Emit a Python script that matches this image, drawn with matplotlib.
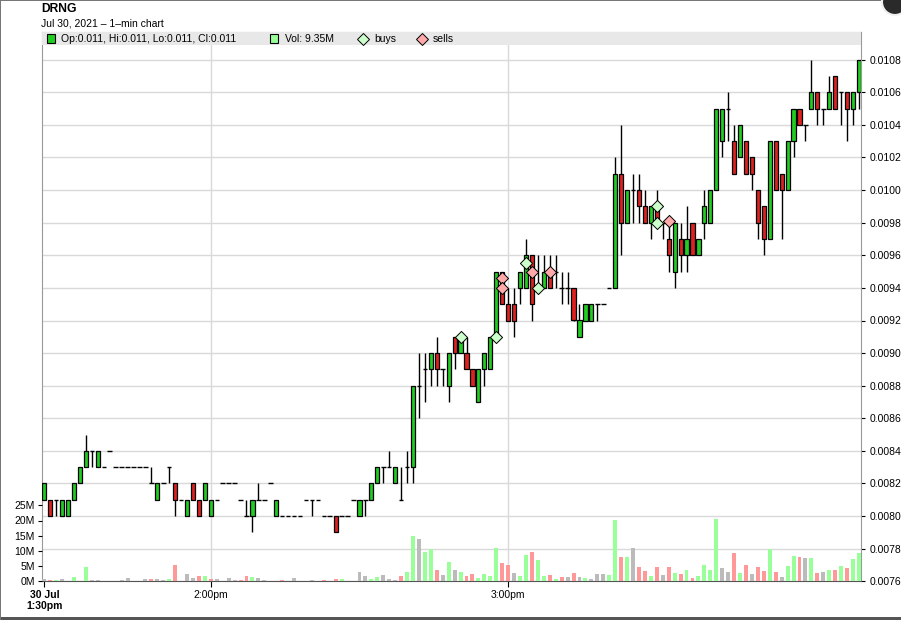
import numpy as np
import matplotlib
matplotlib.use('Agg')
import matplotlib.pyplot as plt
from matplotlib.patches import Rectangle, Ellipse

# DRNG 1-min bars, prices in ticks of 0.0001
TICK = 0.0001
opens = [81, 81, 81, 80, 80, 81, 82, 83, 84, 83, 83, 84, 83, 83, 83, 83, 83, 83, 82, 81,
         82, 83, 82, 81, 80, 82, 81, 81, 80, 81, 82, 82, 82, 81, 80, 80, 81, 81, 82, 80,
         80, 80, 80, 80, 81, 81, 81, 80, 80, 80, 80, 80, 81, 80, 81, 81, 82, 83, 83, 82,
         81, 83, 83, 88, 89, 89, 90, 89, 88, 91, 90, 90, 89, 87, 89, 89, 91, 95, 93, 93,
         94, 94, 96, 94, 94, 95, 95, 94, 94, 94, 91, 92, 92, 93, 93, 94, 94, 101, 98, 100,
         100, 99, 98, 99, 98, 97, 95, 97, 96, 98, 96, 98, 98, 100, 103, 105, 103, 102, 103, 102,
         100, 99, 97, 103, 101, 100, 103, 105, 104, 105, 106, 105, 105, 107, 106, 106, 105, 106]
highs = [82, 81, 81, 81, 81, 82, 83, 85, 84, 84, 83, 84, 83, 83, 83, 83, 83, 83, 83, 82,
         82, 83, 82, 81, 81, 82, 81, 82, 81, 81, 82, 82, 82, 81, 81, 81, 82, 81, 82, 81,
         80, 80, 80, 80, 81, 81, 81, 80, 80, 80, 80, 80, 81, 81, 81, 82, 83, 83, 84, 83,
         83, 84, 88, 90, 90, 90, 91, 89, 90, 91, 91, 91, 89, 89, 90, 91, 95, 95, 94, 94,
         95, 97, 96, 96, 96, 96, 96, 95, 95, 94, 93, 93, 93, 93, 93, 94, 102, 104, 100, 101,
         101, 100, 99, 100, 98, 98, 98, 98, 99, 98, 97, 100, 100, 105, 105, 106, 104, 104, 103, 102,
         100, 99, 103, 103, 101, 103, 105, 105, 104, 108, 106, 105, 107, 107, 106, 106, 106, 108]
lows = [81, 80, 80, 80, 80, 81, 82, 83, 83, 83, 83, 84, 83, 83, 83, 83, 83, 83, 82, 81,
        82, 82, 80, 81, 80, 81, 80, 81, 80, 81, 82, 82, 82, 81, 80, 79, 81, 81, 82, 80,
        80, 80, 80, 80, 81, 80, 81, 80, 80, 79, 80, 80, 81, 80, 80, 81, 82, 82, 83, 82,
        81, 82, 82, 86, 87, 88, 88, 88, 87, 89, 90, 89, 88, 87, 88, 89, 91, 93, 92, 91,
        93, 94, 92, 94, 94, 94, 94, 93, 93, 92, 91, 92, 92, 92, 93, 94, 94, 96, 98, 98,
        98, 98, 97, 98, 97, 95, 94, 95, 95, 96, 96, 97, 98, 100, 102, 103, 101, 102, 101, 100,
        97, 96, 97, 100, 97, 100, 102, 104, 103, 105, 104, 104, 105, 105, 104, 103, 104, 105]
closes = [82, 80, 81, 81, 81, 82, 83, 84, 84, 84, 83, 84, 83, 83, 83, 83, 83, 83, 82, 82,
          82, 83, 81, 81, 81, 81, 80, 82, 81, 81, 82, 82, 82, 81, 80, 81, 81, 81, 82, 81,
          80, 80, 80, 80, 81, 81, 81, 80, 80, 79, 80, 80, 81, 81, 81, 82, 83, 83, 83, 83,
          81, 83, 88, 88, 89, 90, 89, 89, 90, 90, 91, 89, 88, 89, 90, 91, 95, 93, 92, 92,
          95, 96, 93, 94, 95, 94, 95, 94, 94, 92, 92, 93, 93, 93, 93, 94, 101, 98, 100, 100,
          99, 98, 99, 98, 98, 96, 98, 96, 97, 96, 97, 99, 100, 105, 105, 105, 101, 104, 101, 101,
          98, 97, 103, 100, 100, 103, 105, 104, 104, 106, 105, 105, 106, 105, 106, 105, 106, 108]
# volume in millions of shares
volume_m = [0.7, 0.4, 0.4, 0.7, 0.1, 1.4, 0.1, 4.6, 0.4, 0.4, 0.1, 0.1, 0.1, 0.4, 1.1, 0.1,
            0.1, 0.7, 0.7, 0.7, 0.4, 0.7, 5.3, 0.1, 2.3, 1.1, 1.8, 1.8, 0.7, 0.7, 0.1, 1.0,
            0.4, 0.4, 1.8, 1.4, 1.1, 0.4, 0.1, 0.1, 0.4, 0.1, 1.1, 0.1, 0.1, 0.4, 0.1, 0.4,
            0.1, 0.7, 0.7, 0.1, 0.1, 3.0, 1.8, 0.7, 1.4, 2.0, 0.7, 0.4, 1.7, 3.0, 14.8, 13.8,
            9.7, 10.6, 3.6, 2.0, 6.2, 3.6, 3.0, 1.7, 2.3, 1.1, 2.3, 1.7, 11.0, 5.9, 5.2, 2.7,
            1.7, 8.7, 9.7, 7.1, 1.7, 2.0, 0.7, 1.4, 1.4, 2.7, 1.4, 1.1, 0.7, 2.3, 2.3, 2.0,
            20.2, 8.1, 8.1, 11.0, 4.6, 3.3, 1.7, 4.6, 2.0, 4.6, 2.7, 2.3, 3.6, 1.1, 1.7, 5.5,
            3.6, 20.6, 4.3, 3.0, 9.4, 2.7, 5.2, 2.3, 4.6, 3.3, 10.6, 3.0, 1.4, 4.9, 8.4, 8.1,
            7.8, 7.8, 2.7, 3.0, 3.6, 3.6, 4.9, 4.3, 7.4, 9.35]

buy_bars = [70, 76, 81, 83, 103, 103]
buy_prices = [91, 91, 95.5, 94, 99, 98]
sell_bars = [77, 77, 82, 85, 105]
sell_prices = [94.6, 94, 95, 95, 98.1]

time_ticks = [0, 28, 78]
time_labels = ['30 Jul\n1:30pm', '2:00pm', '3:00pm']
price_ticks = [76, 78, 80, 82, 84, 86, 88, 90, 92, 94, 96, 98, 100, 102, 104, 106, 108]
vol_ticks = [0, 5, 10, 15, 20, 25]

UP, DOWN = '#22cc22', '#dd2222'
VUP, VDOWN, VFLAT = '#99ff99', '#ff9999', '#bbbbbb'
GRID = '#d9d9d9'

plt.rcParams['font.family'] = ['Liberation Sans', 'DejaVu Sans']
plt.rcParams['font.size'] = 7.5

W, H = 901, 620
fig = plt.figure(figsize=(W / 100, H / 100), dpi=100)


def px(x, y):
    return x / W, 1 - y / H


ax_bottom, ax_top = 581.3, 32.0
ax = fig.add_axes([42 / W, 1 - ax_bottom / H, (861 - 42) / W, (ax_bottom - ax_top) / H])
axv = ax.twinx()

x = np.arange(len(opens))
o = np.array(opens) * TICK
h = np.array(highs) * TICK
l = np.array(lows) * TICK
c = np.array(closes) * TICK

px_per_tick = 16.3
ax.set_ylim(0.0076, 0.0076 + (ax_bottom - ax_top) / px_per_tick * TICK)
ax.set_xlim(-0.39, len(opens) - 1 + 0.34)

# wicks
ax.vlines(x, l, h, color='black', lw=1, zorder=3)
# bodies
body = c != o
cols = np.where(c > o, UP, DOWN)
ax.bar(x[body], (c - o)[body], bottom=o[body], width=0.7, color=cols[body],
       edgecolor='black', linewidth=0.9, zorder=4)
# dojis / flat bars
ax.hlines(o[~body], x[~body] - 0.38, x[~body] + 0.38, color='black', lw=1, zorder=4)

ax.scatter(buy_bars, np.array(buy_prices) * TICK, marker='D', s=38, c='#ccffcc',
           edgecolors='black', linewidths=0.7, zorder=6)
ax.scatter(sell_bars, np.array(sell_prices) * TICK, marker='D', s=38, c='#ffaaaa',
           edgecolors='black', linewidths=0.7, zorder=6)

ax.set_yticks(np.array(price_ticks) * TICK)
ax.set_yticklabels(['%.4f' % (p * TICK) for p in price_ticks])
ax.set_xticks(time_ticks)
ax.set_xticklabels(time_labels)
ax.get_xticklabels()[0].set_fontweight('bold')
ax.tick_params(axis='x', length=4, pad=2)
ax.grid(axis='y', color=GRID, lw=1, zorder=0)
for t in time_ticks[1:]:
    ax.axvline(t, color=GRID, lw=1, zorder=0)
for s in ax.spines.values():
    s.set_color('#999999')
ax.spines['bottom'].set_color('#555555')

# volume on its own scale
vol_px = 3.04
axv.set_ylim(0, (ax_bottom - ax_top) / vol_px)
prev = np.r_[c[0], c[:-1]]
vcols = np.where(c > prev, VUP, np.where(c < prev, VDOWN, VFLAT))
axv.bar(x, volume_m, width=0.66, color=vcols, zorder=2)
axv.set_yticks(vol_ticks)
axv.set_yticklabels(['%dM' % v for v in vol_ticks])
for s in axv.spines.values():
    s.set_visible(False)

# price scale right, volume scale left
ax.yaxis.tick_right()
ax.yaxis.set_label_position('right')
ax.tick_params(axis='y', length=3, pad=3, colors='black')
axv.yaxis.tick_left()
axv.yaxis.set_label_position('left')
axv.tick_params(axis='y', length=3, pad=2)

# legend strip inside the top of the plot
band = (ax_bottom - 45) / (ax_bottom - ax_top)
axv.add_patch(Rectangle((0, band), 1, 1 - band, transform=axv.transAxes,
                        facecolor='#e8e8e8', edgecolor='none', zorder=10))
sq_w, sq_h = 8 / W, 8 / H
fig.add_artist(Rectangle(px(46.5, 42.5), sq_w, sq_h, transform=fig.transFigure,
                         facecolor=UP, edgecolor='black', lw=0.8))
fig.text(*px(61, 38.8), 'Op:0.011, Hi:0.011, Lo:0.011, Cl:0.011', va='center')
fig.add_artist(Rectangle(px(269.5, 42.5), sq_w, sq_h, transform=fig.transFigure,
                         facecolor=VUP, edgecolor='black', lw=0.8))
fig.text(*px(285, 38.8), 'Vol: 9.35M', va='center')
fig.add_artist(plt.Line2D([363 / W], [1 - 38.8 / H], marker='D', ms=6, mfc='#ccffcc',
                          mec='black', mew=0.7, transform=fig.transFigure))
fig.text(*px(374, 38.8), 'buys', va='center')
fig.add_artist(plt.Line2D([421.5 / W], [1 - 38.8 / H], marker='D', ms=6, mfc='#ffaaaa',
                          mec='black', mew=0.7, transform=fig.transFigure))
fig.text(*px(433, 38.8), 'sells', va='center')

fig.text(*px(41, 9), 'DRNG', fontsize=8.7, fontweight='bold', va='center')
fig.text(*px(41, 24), 'Jul 30, 2021 \u2013 1\u2013min chart', va='center')

# window frame: thin left/top edge, dark strip at the bottom, close button corner
fig.add_artist(Rectangle((0, 0), 1, 3 / H, transform=fig.transFigure,
                         facecolor='#555555', edgecolor='none'))
fig.add_artist(Rectangle((0, 0), 1 / W, 1, transform=fig.transFigure,
                         facecolor='#777777', edgecolor='none'))
fig.add_artist(Rectangle((0, 1 - 1 / H), 1, 1 / H, transform=fig.transFigure,
                         facecolor='#777777', edgecolor='none'))
fig.add_artist(Ellipse(px(895, 2), 26 / W, 26 / H, transform=fig.transFigure,
                       facecolor='#2a2a2a', edgecolor='#f0f0f0', lw=1.5))

fig.savefig('out.png', dpi=100)
